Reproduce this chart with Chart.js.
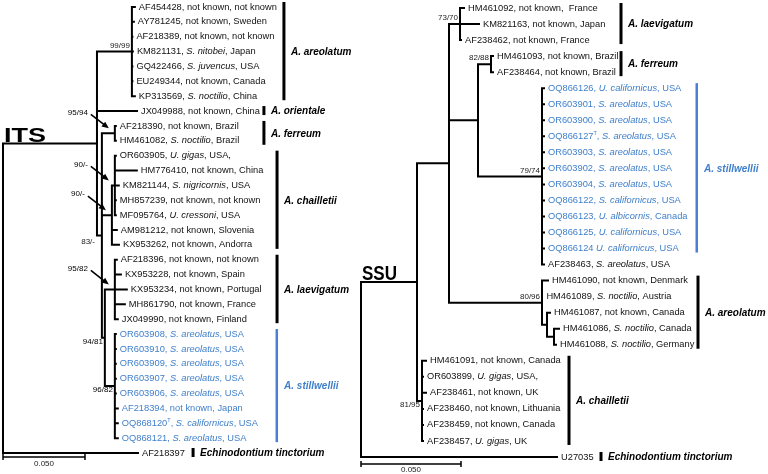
<!DOCTYPE html>
<html>
<head>
<meta charset="utf-8">
<script src="https://cdn.jsdelivr.net/npm/chart.js@4.4.1/dist/chart.umd.min.js"></script>
<style>
  html, body { margin: 0; padding: 0; background: #fff; }
  #wrap { width: 768px; height: 474px; }
</style>
</head>
<body>
<div id="wrap"><canvas id="tree" width="768" height="474"></canvas></div>
<script>
// ---- ITS tree: node, parent, branch length (subst./site), bootstrap ----
const itsNodes = ['root', 'in', 'are', 'AF454428', 'AY781245', 'AF218389', 'KM821131', 'GQ422466', 'EU249344', 'KP313569',
  'JX049988', 'n2', 'fer', 'AF218390', 'HM461082', 'cha', 'cha2', 'OR603905', 'HM776410', 'KM821144', 'MH857239', 'MF095764',
  'AM981212', 'KX953262', 'n3', 'lae', 'AF218396', 'KX953228', 'KX953234', 'MH861790', 'JX049990', 'sti', 'OR603908',
  'OR603910', 'OR603909', 'OR603907', 'OR603906', 'AF218394', 'OQ868120', 'OQ868121', 'AF218397'];
const itsParents = [null, 'root', 'in', 'are', 'are', 'are', 'are', 'are', 'are', 'are',
  'in', 'in', 'n2', 'fer', 'fer', 'n2', 'cha', 'cha2', 'cha2', 'cha2', 'cha2', 'cha2',
  'cha', 'cha', 'n2', 'n3', 'lae', 'lae', 'lae', 'lae', 'lae', 'n3', 'sti',
  'sti', 'sti', 'sti', 'sti', 'sti', 'sti', 'sti', 'root'];
const itsLengths = [0, 0.0573, 0.0213, 0.0018, 0.0012, 0.0003, 0.0006, 0.0003, 0.0003, 0.0018,
  0.0244, 0.0030, 0.0079, 0.0006, 0.0006, 0.0061, 0.0018, 0.0006, 0.0134, 0.0024, 0.0006, 0.0006,
  0.0030, 0.0043, 0.0018, 0.0061, 0.0012, 0.0037, 0.0073, 0.0061, 0.0018, 0.0061, 0.0006,
  0.0006, 0.0006, 0.0006, 0.0006, 0.0018, 0.0018, 0.0018, 0.0823];
const itsSupport = ['', '', '99/99', '', '', '', '', '', '', '',
  '', '83/-', '95/94', '', '', '90/-', '90/-', '', '', '', '', '',
  '', '', '94/81', '95/82', '', '', '', '', '', '96/82', '',
  '', '', '', '', '', '', '', ''];
// leaf labels, in leaf order
const itsHosts = ['not known', 'not known', 'not known', 'S. nitobei', 'S. juvencus', 'not known', 'S. noctilio',
  'not known', 'not known', 'S. noctilio', 'U. gigas', 'not known', 'S. nigricornis', 'not known', 'U. cressoni',
  'not known', 'not known', 'not known', 'not known', 'not known', 'not known', 'not known',
  'S. areolatus', 'S. areolatus', 'S. areolatus', 'S. areolatus', 'S. areolatus', 'not known',
  'S. californicus', 'S. areolatus', ''];
const itsCountries = ['not known', 'Sweden', 'not known', 'Japan', 'USA', 'Canada', 'China',
  'China', 'Brazil', 'Brazil', 'USA,', 'China', 'USA', 'not known', 'USA',
  'Slovenia', 'Andorra', 'not known', 'Spain', 'Portugal', 'France', 'Finland',
  'USA', 'USA', 'USA', 'USA', 'USA', 'Japan', 'USA', 'USA', ''];
const itsClades = ['A. areolatum', 'A. orientale', 'A. ferreum', 'A. chailletii', 'A. laevigatum', 'A. stillwellii', 'Echinodontium tinctorium'];
const itsCladeFirst = ['AF454428', 'JX049988', 'AF218390', 'OR603905', 'AF218396', 'OR603908', 'AF218397'];
const itsCladeLast = ['KP313569', 'JX049988', 'HM461082', 'KX953262', 'JX049990', 'OQ868121', 'AF218397'];

// ---- SSU tree ----
const ssuNodes = ['root', 'in', 'a', 'lae', 'HM461092', 'KM821163', 'AF238462', 'fs', 'fer', 'HM461093', 'AF238464',
  'sti', 'OQ866126', 'OR603901', 'OR603900', 'OQ866127', 'OR603903', 'OR603902', 'OR603904', 'OQ866122', 'OQ866123',
  'OQ866125', 'OQ866124', 'AF238463', 'areo', 'HM461090', 'HM461089', 'ar2', 'HM461087', 'ar3', 'HM461086', 'HM461088',
  'cha', 'HM461091', 'OR603899', 'AF238461', 'AF238460', 'AF238459', 'AF238457', 'U27035'];
const ssuParents = [null, 'root', 'in', 'a', 'lae', 'lae', 'lae', 'a', 'fs', 'fer', 'fer',
  'fs', 'sti', 'sti', 'sti', 'sti', 'sti', 'sti', 'sti', 'sti', 'sti',
  'sti', 'sti', 'sti', 'a', 'areo', 'areo', 'areo', 'ar2', 'ar2', 'ar3', 'ar3',
  'in', 'cha', 'cha', 'cha', 'cha', 'cha', 'cha', 'root'];
const ssuLengths = [0, 0.028, 0.016, 0.0055, 0.002, 0.0095, 0.0005, 0.0145, 0.0065, 0.001, 0.001,
  0.032, 0.001, 0.001, 0.001, 0.001, 0.001, 0.001, 0.001, 0.001, 0.001,
  0.001, 0.001, 0.001, 0.0465, 0.003, 0.0002, 0.0025, 0.0015, 0.0035, 0.0025, 0.001,
  0.0025, 0.002, 0.0005, 0.002, 0.0005, 0.0005, 0.0005, 0.098];
const ssuSupport = ['', '', '', '73/70', '', '', '', '', '82/88', '', '',
  '79/74', '', '', '', '', '', '', '', '', '',
  '', '', '', '80/96', '', '', '', '', '', '', '',
  '81/95', '', '', '', '', '', '', ''];
const ssuHosts = ['not known', 'not known', 'not known', 'not known', 'not known',
  'U. californicus', 'S. areolatus', 'S. areolatus', 'S. areolatus', 'S. areolatus', 'S. areolatus', 'S. areolatus',
  'S. californicus', 'U. albicornis', 'U. californicus', 'U. californicus', 'S. areolatus',
  'not known', 'S. noctilio', 'not known', 'S. noctilio', 'S. noctilio',
  'not known', 'U. gigas', 'not known', 'not known', 'not known', 'U. gigas', ''];
const ssuCountries = [' France', 'Japan', 'France', 'Brazil', 'Brazil',
  'USA', 'USA', 'USA', 'USA', 'USA', 'USA', 'USA',
  'USA', 'Canada', 'USA', 'USA', 'USA',
  'Denmark', 'Austria', 'Canada', 'Canada', 'Germany',
  'Canada', 'USA,', 'UK', 'Lithuania', 'Canada', 'UK', ''];
const ssuClades = ['A. laevigatum', 'A. ferreum', 'A. stillwellii', 'A. areolatum', 'A. chailletii', 'Echinodontium tinctorium'];
const ssuCladeFirst = ['HM461092', 'HM461093', 'OQ866126', 'HM461090', 'HM461091', 'U27035'];
const ssuCladeLast = ['AF238462', 'AF238464', 'OQ866124', 'HM461088', 'AF238457', 'U27035'];

const typeStrains = ['OQ868120', 'OQ866127'];
const scaleBarLength = 0.05;

// ---- layout (pixels / styling only) ----
const W = 768, H = 474;
const FONT = '"Liberation Sans", Arial, sans-serif';
const BLUE_TEXT = '#3f7fca';
const BLUE_BAR = '#4a7fd4';
const layout = {
  its: {
    title: 'ITS', titleSize: 21, titleWidth: 42, x0: 3, pxPerUnit: 1640, yTop: 7, yBottom: 453,
    barX: [0.1713, 0.1591, 0.1591, 0.1671, 0.1671, 0.1671, 0.1159],
    highlight: 'A. stillwellii', scaleDy: 4, scaleLabelDy: 7,
    place: { are: 'above', fer: 'arrow', cha2: 'arrow', cha: 'arrow', n2: 'left', lae: 'arrow', n3: 'below', sti: 'below' }
  },
  ssu: {
    title: 'SSU', titleSize: 20, titleWidth: 35, x0: 361, pxPerUnit: 2000, yTop: 8, yBottom: 457,
    barX: [0.130, 0.130, 0.168, 0.1685, 0.104, 0.120],
    highlight: 'A. stillwellii', scaleDy: 7, scaleLabelDy: 6,
    place: { lae: 'above', fer: 'above', sti: 'above', areo: 'above', cha: 'below' }
  }
};

function buildTree(nodes, parents, lengths) {
  const kids = {}, depth = {}, row = {};
  nodes.forEach(n => { kids[n] = []; });
  nodes.forEach((n, i) => { if (parents[i] !== null) kids[parents[i]].push(n); });
  nodes.forEach((n, i) => { depth[n] = parents[i] === null ? 0 : depth[parents[i]] + lengths[i]; });
  const leaves = nodes.filter(n => kids[n].length === 0);
  leaves.forEach((n, i) => { row[n] = i; });
  const place = n => {
    if (!kids[n].length) return row[n];
    const ys = kids[n].map(place);
    row[n] = (Math.min(...ys) + Math.max(...ys)) / 2;
    return row[n];
  };
  place(nodes[0]);
  const parentOf = {};
  nodes.forEach((n, i) => { parentOf[n] = parents[i]; });
  return { nodes, kids, depth, row, leaves, parentOf };
}

function branchPoints(t) {
  const pts = [];
  t.nodes.forEach(n => {
    const ch = t.kids[n];
    if (!ch.length) return;
    const ys = ch.map(c => t.row[c]);
    pts.push({ x: t.depth[n], y: Math.min(...ys) }, { x: t.depth[n], y: Math.max(...ys) }, { x: null, y: null });
    ch.forEach(c => {
      pts.push({ x: t.depth[n], y: t.row[c] }, { x: t.depth[c], y: t.row[c] }, { x: null, y: null });
    });
  });
  return pts;
}

const its = buildTree(itsNodes, itsParents, itsLengths);
const ssu = buildTree(ssuNodes, ssuParents, ssuLengths);
its.cfg = layout.its; its.support = itsSupport; its.hosts = itsHosts; its.countries = itsCountries;
its.clades = itsClades; its.first = itsCladeFirst; its.last = itsCladeLast; its.xId = 'xL'; its.yId = 'yL';
ssu.cfg = layout.ssu; ssu.support = ssuSupport; ssu.hosts = ssuHosts; ssu.countries = ssuCountries;
ssu.clades = ssuClades; ssu.first = ssuCladeFirst; ssu.last = ssuCladeLast; ssu.xId = 'xR'; ssu.yId = 'yR';

function xRange(cfg) {
  return { min: -cfg.x0 / cfg.pxPerUnit, max: (W - cfg.x0) / cfg.pxPerUnit };
}
function yRange(cfg, nLeaves) {
  const range = (nLeaves - 1) * H / (cfg.yBottom - cfg.yTop);
  const min = -cfg.yTop * range / H;
  return { min, max: min + range };
}

function drawLeafLabel(ctx, x, y, acc, host, country, color) {
  ctx.fillStyle = color;
  ctx.textBaseline = 'middle';
  ctx.textAlign = 'left';
  let cx = x;
  const put = (txt, italic) => {
    ctx.font = (italic ? 'italic ' : '') + '9.3px ' + FONT;
    ctx.fillText(txt, cx, y);
    cx += ctx.measureText(txt).width;
  };
  put(acc, false);
  if (typeStrains.includes(acc)) {
    ctx.font = '5.5px ' + FONT;
    ctx.fillText('T', cx, y - 3);
    cx += ctx.measureText('T').width;
  }
  if (!host) return;
  put(acc === 'OQ866124' ? ' ' : ', ', false);
  put(host, host !== 'not known');
  put(', ' + country, false);
}

function arrow(ctx, x1, y1, x2, y2) {
  const a = Math.atan2(y2 - y1, x2 - x1), L = 7, w = 3;
  ctx.strokeStyle = '#000';
  ctx.lineWidth = 1.6;
  ctx.beginPath();
  ctx.moveTo(x1, y1);
  ctx.lineTo(x2 - L * 0.8 * Math.cos(a), y2 - L * 0.8 * Math.sin(a));
  ctx.stroke();
  ctx.fillStyle = '#000';
  ctx.beginPath();
  ctx.moveTo(x2, y2);
  ctx.lineTo(x2 - L * Math.cos(a) + w * Math.sin(a), y2 - L * Math.sin(a) - w * Math.cos(a));
  ctx.lineTo(x2 - L * Math.cos(a) - w * Math.sin(a), y2 - L * Math.sin(a) + w * Math.cos(a));
  ctx.closePath();
  ctx.fill();
}

const treeLabels = {
  id: 'treeLabels',
  afterDatasetsDraw(chart) {
    const ctx = chart.ctx;
    ctx.save();
    [its, ssu].forEach(t => {
      const xs = chart.scales[t.xId], ys = chart.scales[t.yId];
      const px = n => xs.getPixelForValue(t.depth[n]);
      const py = n => ys.getPixelForValue(t.row[n]);
      const cfg = t.cfg;
      const hiIdx = t.clades.indexOf(cfg.highlight);
      const hiFirst = t.row[t.first[hiIdx]], hiLast = t.row[t.last[hiIdx]];

      // leaf labels
      t.leaves.forEach((leaf, i) => {
        const blue = t.row[leaf] >= hiFirst && t.row[leaf] <= hiLast;
        drawLeafLabel(ctx, px(leaf) + 4, py(leaf), leaf, t.hosts[i], t.countries[i], blue ? BLUE_TEXT : '#111');
      });

      // clade bars and names
      t.clades.forEach((name, i) => {
        const bx = xs.getPixelForValue(cfg.barX[i]);
        const top = ys.getPixelForValue(t.row[t.first[i]]) - 5;
        const bot = ys.getPixelForValue(t.row[t.last[i]]) + 4;
        const hi = name === cfg.highlight;
        ctx.fillStyle = hi ? BLUE_BAR : '#000';
        ctx.fillRect(bx - 1.5, top, hi ? 2.5 : 3, bot - top);
        ctx.fillStyle = hi ? BLUE_TEXT : '#000';
        ctx.font = 'italic bold 10px ' + FONT;
        ctx.textAlign = 'left';
        ctx.textBaseline = 'middle';
        ctx.fillText(name, bx + 7, (top + bot) / 2 + 1);
      });

      // bootstrap values
      ctx.font = '8px ' + FONT;
      ctx.fillStyle = '#222';
      ctx.textAlign = 'right';
      ctx.textBaseline = 'middle';
      t.nodes.forEach((n, i) => {
        const s = t.support[i];
        if (!s) return;
        const x = px(n), y = py(n), where = cfg.place[n];
        if (where === 'above') {
          ctx.fillText(s, x - 2, y - 6);
        } else if (where === 'below') {
          ctx.fillText(s, x - 2, y + 4);
        } else if (where === 'left') {
          ctx.fillText(s, xs.getPixelForValue(t.depth[t.parentOf[n]]) - 2, y + 6);
        } else if (where === 'arrow') {
          const tx = x - 6, ty = y - 5;
          const sx = tx - 18, sy = ty - 14;
          arrow(ctx, sx, sy, tx, ty);
          ctx.fillText(s, sx - 3, sy - 2);
        }
      });

      // scale bar
      const root = t.nodes[0];
      const outgroup = t.leaves[t.leaves.length - 1];
      const sy = py(outgroup) + cfg.scaleDy;
      const sx1 = xs.getPixelForValue(0), sx2 = xs.getPixelForValue(scaleBarLength);
      ctx.strokeStyle = '#000';
      ctx.lineWidth = 1.5;
      ctx.beginPath();
      ctx.moveTo(sx1, sy); ctx.lineTo(sx2, sy);
      ctx.moveTo(sx1, sy - 3); ctx.lineTo(sx1, sy + 3);
      ctx.moveTo(sx2, sy - 3); ctx.lineTo(sx2, sy + 3);
      ctx.stroke();
      ctx.font = '8px ' + FONT;
      ctx.fillStyle = '#222';
      ctx.textAlign = 'center';
      ctx.textBaseline = 'middle';
      ctx.fillText(scaleBarLength.toFixed(3), (sx1 + sx2) / 2, sy + cfg.scaleLabelDy);

      // tree title, fitted to the width it has in the figure
      const inner = t.kids[root][0];
      ctx.font = 'bold ' + cfg.titleSize + 'px ' + FONT;
      ctx.fillStyle = '#000';
      ctx.textAlign = 'left';
      ctx.textBaseline = 'alphabetic';
      const k = cfg.titleWidth / ctx.measureText(cfg.title).width;
      ctx.save();
      ctx.translate(px(root) + 1, py(inner) - 2);
      ctx.scale(k, 1);
      ctx.fillText(cfg.title, 0, 0);
      ctx.restore();
    });
    ctx.restore();
  }
};

const xL = xRange(layout.its), xR = xRange(layout.ssu);
const yL = yRange(layout.its, its.leaves.length), yR = yRange(layout.ssu, ssu.leaves.length);
const hidden = r => Object.assign({ type: 'linear', display: false }, r);

new Chart(document.getElementById('tree'), {
  type: 'scatter',
  data: {
    datasets: [
      { label: 'ITS', data: branchPoints(its), xAxisID: 'xL', yAxisID: 'yL' },
      { label: 'SSU', data: branchPoints(ssu), xAxisID: 'xR', yAxisID: 'yR' }
    ].map(d => Object.assign(d, {
      showLine: true, spanGaps: false, borderColor: '#000', borderWidth: 2,
      borderCapStyle: 'square', borderJoinStyle: 'miter', pointRadius: 0, tension: 0
    }))
  },
  options: {
    responsive: false,
    animation: false,
    events: [],
    layout: { padding: 0 },
    plugins: { legend: { display: false }, tooltip: { enabled: false } },
    scales: {
      xL: hidden(Object.assign({ position: 'bottom' }, xL)),
      yL: hidden(Object.assign({ position: 'left', reverse: true }, yL)),
      xR: hidden(Object.assign({ position: 'top' }, xR)),
      yR: hidden(Object.assign({ position: 'right', reverse: true }, yR))
    }
  },
  plugins: [treeLabels]
});
</script>
</body>
</html>
